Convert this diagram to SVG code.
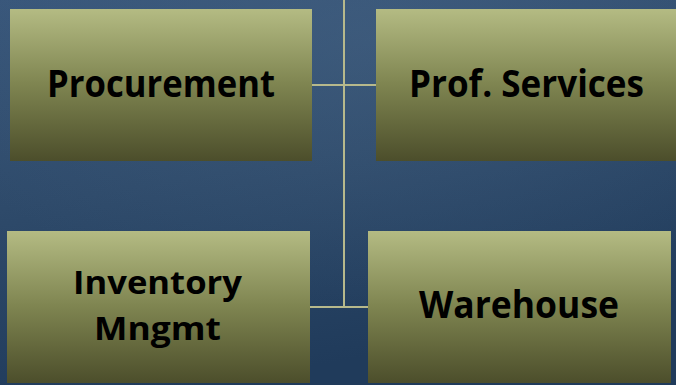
<svg xmlns="http://www.w3.org/2000/svg" width="676" height="385" viewBox="0 0 676 385">
<defs>
<linearGradient id="bg" x1="0" y1="0" x2="0.3" y2="1">
<stop offset="0" stop-color="#38567a"/>
<stop offset="0.5" stop-color="#2e4a6a"/>
<stop offset="1" stop-color="#203b5b"/>
</linearGradient>
<radialGradient id="glow" cx="0.55" cy="0.1" r="0.7">
<stop offset="0" stop-color="#4a6888" stop-opacity="0.4"/>
<stop offset="1" stop-color="#4a6888" stop-opacity="0"/>
</radialGradient>
<linearGradient id="box" x1="0" y1="0" x2="0" y2="1">
<stop offset="0" stop-color="#b4bb83"/>
<stop offset="0.5" stop-color="#7e8450"/>
<stop offset="1" stop-color="#4c4e2b"/>
</linearGradient>
</defs>
<style>
.node rect{fill:url(#box);}
.node text{font-family:"Open Sans","Noto Sans","DejaVu Sans",sans-serif;font-weight:bold;font-size:38px;fill:#000;text-anchor:middle;}
#inventory text{font-size:33px;}
#connectors line{stroke:#b7b98c;stroke-width:2;}
</style>
<rect width="676" height="385" fill="url(#bg)"/>
<rect width="676" height="385" fill="url(#glow)"/>
<g id="connectors">
<line x1="344" y1="0" x2="344" y2="307"/>
<line x1="312" y1="85" x2="376" y2="85"/>
<line x1="310" y1="307" x2="368" y2="307"/>
</g>
<g id="procurement" class="node">
<rect x="10" y="9" width="302" height="152"/>
<text x="161" y="97" textLength="228" lengthAdjust="spacingAndGlyphs">Procurement</text>
</g>
<g id="prof-services" class="node">
<rect x="376" y="9" width="300" height="152"/>
<text x="526.5" y="97" textLength="235" lengthAdjust="spacingAndGlyphs">Prof. Services</text>
</g>
<g id="inventory" class="node">
<rect x="7" y="231" width="303" height="152"/>
<text x="157.5" y="294" textLength="169" lengthAdjust="spacingAndGlyphs">Inventory</text>
<text x="157.5" y="340" textLength="127" lengthAdjust="spacingAndGlyphs">Mngmt</text>
</g>
<g id="warehouse" class="node">
<rect x="368" y="231" width="303" height="152"/>
<text x="519" y="318" textLength="200" lengthAdjust="spacingAndGlyphs">Warehouse</text>
</g>
</svg>
